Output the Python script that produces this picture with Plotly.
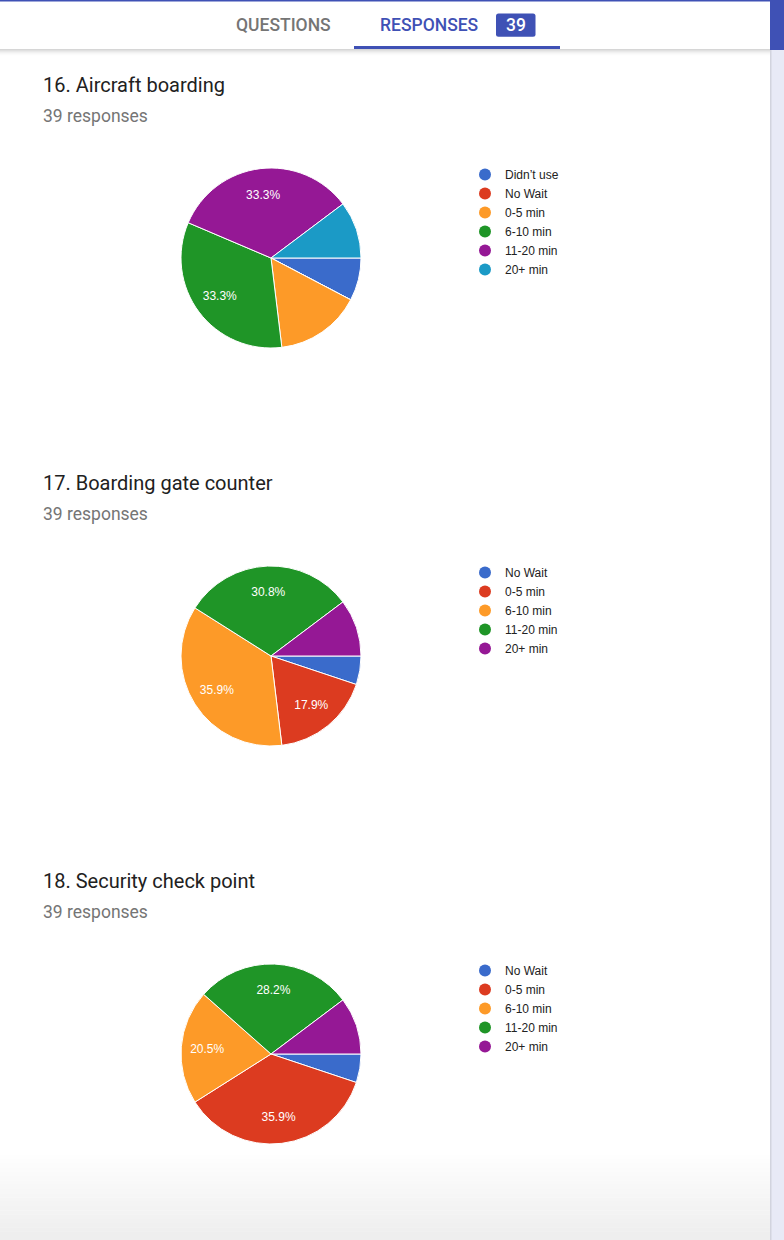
import plotly.graph_objects as go

W, H = 784, 1240

# ---------------- data ----------------
q16_title = "16. Aircraft boarding"
q16_labels = ["Didn\u2019t use", "No Wait", "0-5 min", "6-10 min", "11-20 min", "20+ min"]
q16_values = [3, 0, 6, 13, 13, 4]
q16_colors = ["#3a6bcb", "#dc3b20", "#fd9a28", "#1f9527", "#951895", "#1b9ac6"]

q17_title = "17. Boarding gate counter"
q17_labels = ["No Wait", "0-5 min", "6-10 min", "11-20 min", "20+ min"]
q17_values = [2, 7, 14, 12, 4]
q17_colors = ["#3a6bcb", "#dc3b20", "#fd9a28", "#1f9527", "#951895"]

q18_title = "18. Security check point"
q18_labels = ["No Wait", "0-5 min", "6-10 min", "11-20 min", "20+ min"]
q18_values = [2, 14, 8, 11, 4]
q18_colors = ["#3a6bcb", "#dc3b20", "#fd9a28", "#1f9527", "#951895"]

responses_text = "39 responses"
tab_questions = "QUESTIONS"
tab_responses = "RESPONSES"
tab_count = "39"

# ---------------- helpers ----------------
def px(x):
    return x / W


def py(y):
    return 1 - y / H


def pct_text(values, threshold=16.0):
    total = sum(values)
    out = []
    for v in values:
        p = 100.0 * v / total if total else 0
        out.append(f"{p:.1f}%" if p > threshold else "")
    return out


fig = go.Figure()

questions = [
    (q16_title, q16_labels, q16_values, q16_colors, 0),
    (q17_title, q17_labels, q17_values, q17_colors, 398),
    (q18_title, q18_labels, q18_values, q18_colors, 796),
]

legend_ids = ["legend", "legend2", "legend3"]
annotations = []
legends = {}

for i, (title, labels, values, colors, off) in enumerate(questions):
    cy = 258 + off
    cx = 271
    r = 90
    dom = dict(x=[px(cx - r), px(cx + r)], y=[py(cy + r), py(cy - r)])
    # coloured slices
    fig.add_trace(go.Pie(
        labels=labels, values=values, textinfo="none",
        marker=dict(colors=colors, line=dict(color="white", width=1)),
        sort=False, direction="clockwise", rotation=90,
        showlegend=False, hoverinfo="skip", domain=dom,
    ))
    # percentage labels (same slices, transparent, placed in the outer ring)
    fig.add_trace(go.Pie(
        labels=labels, values=values, hole=0.42,
        text=pct_text(values), textinfo="text",
        textposition="inside", insidetextorientation="horizontal",
        textfont=dict(family="Liberation Sans, Arial", size=12, color="white"),
        marker=dict(colors=["rgba(0,0,0,0)"] * len(values), line=dict(width=0)),
        sort=False, direction="clockwise", rotation=90,
        showlegend=False, hoverinfo="skip", domain=dom,
    ))
    lid = legend_ids[i]
    for lab, col in zip(labels, colors):
        fig.add_trace(go.Scatter(
            x=[None], y=[None], mode="markers", name=lab,
            marker=dict(color=col, size=12, symbol="circle"),
            legend=lid, showlegend=True, hoverinfo="skip",
        ))
    legends[lid] = dict(
        x=px(465), y=py(160 + off), xanchor="left", yanchor="top",
        bgcolor="rgba(0,0,0,0)",
        font=dict(family="Liberation Sans, Arial", size=12, color="#222222"),
        traceorder="normal", itemclick=False, itemdoubleclick=False,
    )
    annotations.append(dict(
        x=px(41), y=py(85 + off), xref="paper", yref="paper",
        xanchor="left", yanchor="middle", showarrow=False,
        text=title, font=dict(family="Roboto", size=20, color="#212121"),
    ))
    annotations.append(dict(
        x=px(41), y=py(116 + off), xref="paper", yref="paper",
        xanchor="left", yanchor="middle", showarrow=False,
        text=responses_text, font=dict(family="Roboto", size=17.5, color="#757575"),
    ))

# header texts
annotations += [
    dict(x=px(283), y=py(25.5), xref="paper", yref="paper", showarrow=False,
         text=tab_questions, xanchor="center", yanchor="middle",
         font=dict(family="Roboto", size=17.5, color="#757575", weight=500)),
    dict(x=px(429), y=py(25.5), xref="paper", yref="paper", showarrow=False,
         text=tab_responses, xanchor="center", yanchor="middle",
         font=dict(family="Roboto", size=17.5, color="#3f51b5", weight=500)),
    dict(x=px(516), y=py(25.5), xref="paper", yref="paper", showarrow=False,
         text=tab_count, xanchor="center", yanchor="middle",
         font=dict(family="Roboto", size=17.5, color="white", weight=500)),
]

shapes = []


def rect(x0, y0, x1, y1, color, layer="below"):
    return dict(type="rect", xref="paper", yref="paper",
                x0=px(x0), x1=px(x1), y0=py(y1), y1=py(y0),
                fillcolor=color, line=dict(width=0), layer=layer)


# bottom gradient
n = 20
for k in range(n):
    y0 = 1155 + k * 4.25
    g = int(255 - (255 - 238) * (k + 1) / n)
    shapes.append(rect(0, y0, 770, y0 + 4.4, f"rgb({g},{g},{g})"))
shapes.append(rect(0, 1240 - 1, 770, 1240, "rgb(238,238,238)"))

# header shadow
shadow = [214, 224, 233, 241, 247, 251, 254]
for k, g in enumerate(shadow):
    shapes.append(rect(0, 49 + k, 770, 50 + k, f"rgb({g},{g},{g})"))
# header white
shapes.append(rect(0, 0, 770, 49, "white"))
# top blue line
shapes.append(rect(0, 0, 770, 1.5, "#3f51b5"))
# tab underline
shapes.append(rect(354, 46, 560, 49, "#3f51b5"))
# badge (rounded)
bx0, bx1, by0, by1, rr = 496, 535.5, 13.5, 36.8, 2.5
shapes.append(dict(
    type="path", xref="paper", yref="paper", layer="below",
    path=(f"M {px(bx0 + rr)},{py(by0)} L {px(bx1 - rr)},{py(by0)} "
          f"Q {px(bx1)},{py(by0)} {px(bx1)},{py(by0 + rr)} "
          f"L {px(bx1)},{py(by1 - rr)} Q {px(bx1)},{py(by1)} {px(bx1 - rr)},{py(by1)} "
          f"L {px(bx0 + rr)},{py(by1)} Q {px(bx0)},{py(by1)} {px(bx0)},{py(by1 - rr)} "
          f"L {px(bx0)},{py(by0 + rr)} Q {px(bx0)},{py(by0)} {px(bx0 + rr)},{py(by0)} Z"),
    fillcolor="#3f51b5", line=dict(width=0)))
# right scrollbar column
shapes.append(rect(770, 49, 784, 1240, "#e8eaf6"))
shapes.append(rect(770, 49, 771.5, 1240, "#d2d4de"))
shapes.append(rect(770, 0, 784, 50, "#3f51b5"))

fig.update_layout(
    width=W, height=H,
    margin=dict(l=0, r=0, t=0, b=0),
    paper_bgcolor="white", plot_bgcolor="white",
    xaxis=dict(visible=False), yaxis=dict(visible=False),
    shapes=shapes,
    annotations=annotations,
    hovermode=False,
    **legends,
)

fig.write_html(
    "out.html",
    config={"displayModeBar": False},
    post_script="document.body.style.margin='0';document.body.style.overflow='hidden';",
)
